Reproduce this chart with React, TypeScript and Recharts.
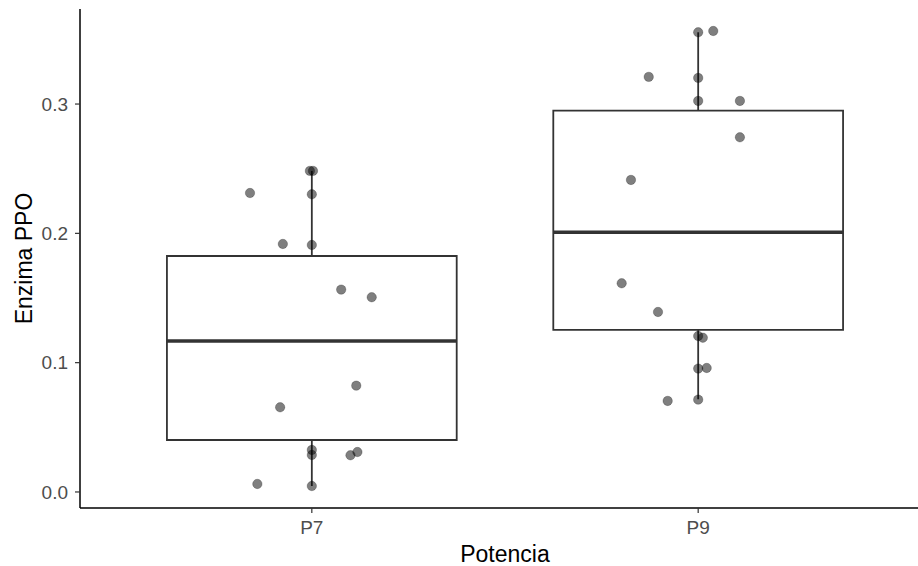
import {
  ComposedChart,
  Scatter,
  XAxis,
  YAxis,
  ReferenceArea,
  ReferenceLine,
} from 'recharts'

const groups = ['P7', 'P9']
const lower = [0.0046, 0.0717]
const q1 = [0.0402, 0.1253]
const median = [0.1168, 0.2008]
const q3 = [0.1825, 0.2949]
const upper = [0.2483, 0.3555]

// visible points and the horizontal jitter
const p7Values = [0.2483, 0.2483, 0.2312, 0.2302, 0.1918, 0.191, 0.1565, 0.1506, 0.0822, 0.0655, 0.0325, 0.0286, 0.0284, 0.0309, 0.0062, 0.0046]
const p7Jitter = [-0.005, 0.003, -0.16, 0, -0.075, 0, 0.076, 0.155, 0.115, -0.082, 0, 0, 0.1, 0.118, -0.141, 0]
const p9Values = [0.3555, 0.3565, 0.321, 0.3202, 0.3024, 0.3024, 0.2743, 0.2413, 0.1614, 0.1392, 0.1206, 0.1193, 0.0954, 0.0959, 0.0704, 0.0714]
const p9Jitter = [0, 0.039, -0.128, 0, 0, 0.108, 0.108, -0.174, -0.198, -0.104, 0, 0.012, 0, 0.022, -0.079, 0]

const yTicks = [0, 0.1, 0.2, 0.3]

const p7Data = p7Values.map((y, i) => ({ x: 1 + p7Jitter[i], y }))
const p9Data = p9Values.map((y, i) => ({ x: 2 + p9Jitter[i], y }))

const FONT = '"Liberation Sans", Arial, Helvetica, sans-serif'
const INK = '#333333'
const HALF = 0.375

const Dot = (props: any) => (
  <circle
    cx={props.cx}
    cy={props.cy}
    r={4.7}
    fill="#000"
    fillOpacity={0.5}
    stroke="#000"
    strokeOpacity={0.3}
    strokeWidth={0.8}
  />
)

const YTitle = (props: any) => {
  const vb = props.viewBox
  const cx = 24
  const cy = vb.y + vb.height / 2
  return (
    <text
      x={cx}
      y={cy}
      transform={`rotate(-90 ${cx} ${cy})`}
      textAnchor="middle"
      dominantBaseline="central"
      fontSize={23}
      fontFamily={FONT}
      fill="#000"
    >
      Enzima PPO
    </text>
  )
}

const XTitle = (props: any) => {
  const vb = props.viewBox
  return (
    <text
      x={vb.x + vb.width / 2}
      y={vb.y + 54}
      textAnchor="middle"
      fontSize={23}
      fontFamily={FONT}
      fill="#000"
    >
      Potencia
    </text>
  )
}

export default function App() {
  return (
    <div
      style={{
        position: 'absolute',
        left: 0,
        top: 0,
        width: 918,
        height: 566,
        overflow: 'hidden',
        background: '#fff',
        fontFamily: FONT,
      }}
    >
      <ComposedChart width={930} height={566} margin={{ top: 9, right: 0, left: 0, bottom: 0 }}>
        <XAxis
          type="number"
          dataKey="x"
          domain={[0.4, 2.6]}
          ticks={[1, 2]}
          allowDataOverflow
          tickFormatter={(v: number) => groups[Math.round(v) - 1]}
          height={58}
          tickSize={5}
          tickMargin={8}
          tick={{ fontSize: 19, fill: '#4d4d4d', fontFamily: FONT }}
          tickLine={{ stroke: INK, strokeWidth: 1.2 }}
          axisLine={{ stroke: '#000', strokeWidth: 1.5 }}
          label={<XTitle />}
        />
        <YAxis
          type="number"
          dataKey="y"
          domain={[-0.0124, 0.3735]}
          ticks={yTicks}
          allowDataOverflow
          tickFormatter={(v: number) => v.toFixed(1)}
          width={80}
          tickSize={5}
          tickMargin={7}
          tick={{ fontSize: 19, fill: '#4d4d4d', fontFamily: FONT }}
          tickLine={{ stroke: INK, strokeWidth: 1.2 }}
          axisLine={{ stroke: '#000', strokeWidth: 1.5 }}
          label={<YTitle />}
        />
        {groups.map((g, i) => (
          <ReferenceLine
            key={`wu-${g}`}
            segment={[
              { x: i + 1, y: q3[i] },
              { x: i + 1, y: upper[i] },
            ]}
            stroke={INK}
            strokeWidth={1.8}
          />
        ))}
        {groups.map((g, i) => (
          <ReferenceLine
            key={`wl-${g}`}
            segment={[
              { x: i + 1, y: lower[i] },
              { x: i + 1, y: q1[i] },
            ]}
            stroke={INK}
            strokeWidth={1.8}
          />
        ))}
        {groups.map((g, i) => (
          <ReferenceArea
            key={`box-${g}`}
            x1={i + 1 - HALF}
            x2={i + 1 + HALF}
            y1={q1[i]}
            y2={q3[i]}
            fill="#fff"
            fillOpacity={1}
            stroke={INK}
            strokeWidth={1.8}
          />
        ))}
        {groups.map((g, i) => (
          <ReferenceLine
            key={`med-${g}`}
            segment={[
              { x: i + 1 - HALF, y: median[i] },
              { x: i + 1 + HALF, y: median[i] },
            ]}
            stroke={INK}
            strokeWidth={3.6}
          />
        ))}
        <Scatter data={p7Data} dataKey="y" shape={<Dot />} isAnimationActive={false} />
        <Scatter data={p9Data} dataKey="y" shape={<Dot />} isAnimationActive={false} />
      </ComposedChart>
    </div>
  )
}
